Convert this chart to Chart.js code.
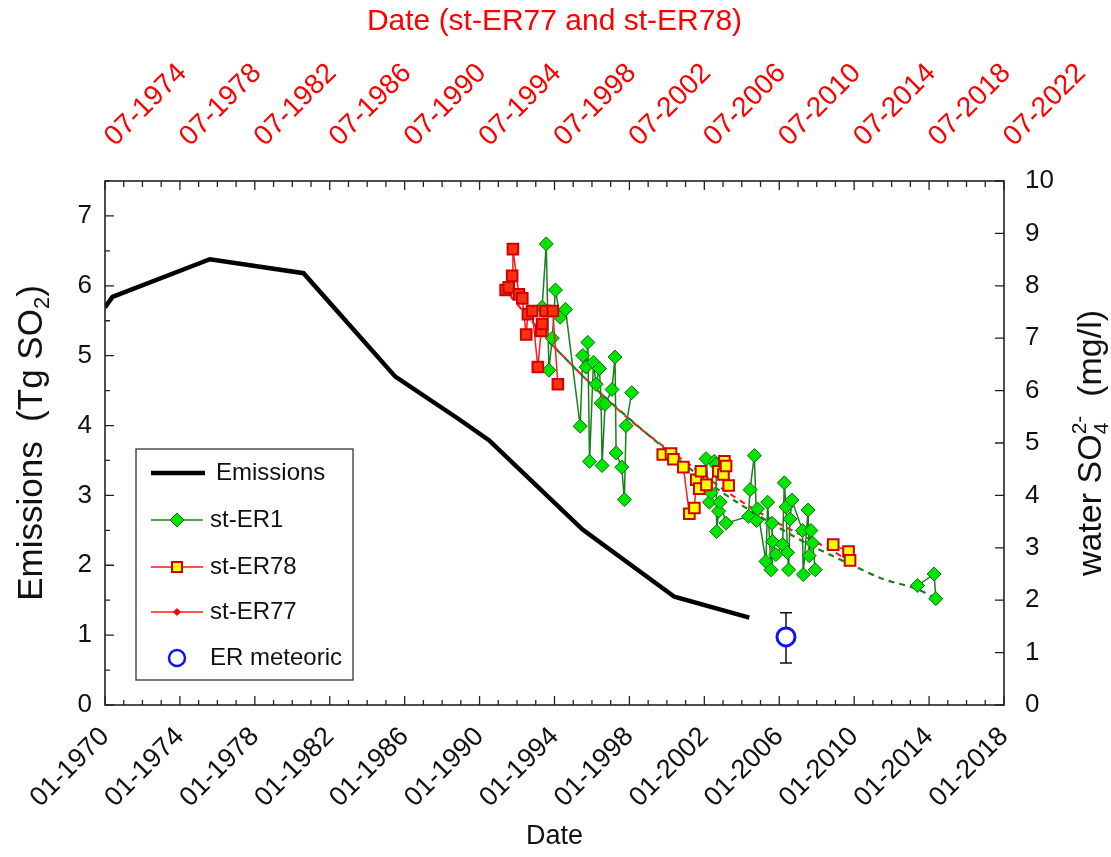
<!DOCTYPE html>
<html>
<head>
<meta charset="utf-8">
<script src="https://cdn.jsdelivr.net/npm/chart.js@4.4.1/dist/chart.umd.min.js"></script>
<style>
  html, body { margin: 0; padding: 0; background: #fff; }
  #wrap { width: 1111px; height: 857px; }
</style>
</head>
<body>
<div id="wrap"><canvas id="c"></canvas></div>
<script>
// axis ticks
const bottomTicks = [1970, 1974, 1978, 1982, 1986, 1990, 1994, 1998, 2002, 2006, 2010, 2014, 2018];
const bottomTickLabels = ['01-1970', '01-1974', '01-1978', '01-1982', '01-1986', '01-1990', '01-1994',
  '01-1998', '01-2002', '01-2006', '01-2010', '01-2014', '01-2018'];
const topTicks = [1974.5, 1978.5, 1982.5, 1986.5, 1990.5, 1994.5, 1998.5, 2002.5, 2006.5, 2010.5, 2014.5, 2018.5, 2022.5];
const topTickLabels = ['07-1974', '07-1978', '07-1982', '07-1986', '07-1990', '07-1994', '07-1998',
  '07-2002', '07-2006', '07-2010', '07-2014', '07-2018', '07-2022'];
const leftTicks = [0, 1, 2, 3, 4, 5, 6, 7];
const rightTicks = [0, 1, 2, 3, 4, 5, 6, 7, 8, 9, 10];

// emissions (Tg SO2, left axis)
const emisYears = [1970, 1970.4, 1975.6, 1980.6, 1985.5, 1988.9, 1990.5, 1995.5, 2000.4, 2004.4];
const emisValues = [5.69, 5.84, 6.38, 6.18, 4.70, 4.09, 3.79, 2.51, 1.55, 1.25];

// st-ER1 (bottom date axis, right axis mg/l); null = no sample, line broken
const er1Years = [1993.34, 1993.56, 1993.70, 1993.88, 1994.05, 1994.30, 1994.59,
  1995.37, 1995.51, 1995.69, 1995.78, 1995.87, 1996.08, 1996.22, 1996.40, 1996.49, 1996.54, 1996.70,
  1997.07, 1997.23, 1997.29, 1997.59, 1997.73, 1997.82, 1998.12, 2000,
  2002.09, 2002.27, 2002.36, 2002.53, 2002.62, 2002.66, 2002.76, 2002.84, 2003.16,
  2004.36, 2004.44, 2004.67, 2004.79, 2004.84,
  2005.29, 2005.38, 2005.56, 2005.61, 2005.64, 2005.82, 2006.18, 2006.27, 2006.36, 2006.44, 2006.50,
  2006.57, 2006.68, 2007.24, 2007.28, 2007.54, 2007.60, 2007.69, 2007.78, 2007.92, 2010,
  2013.38, 2014.27, 2014.36];
const er1Values = [7.59, 8.80, 6.39, 7.00, 7.92, 7.40, 7.55,
  5.32, 6.67, 6.45, 6.92, 4.65, 6.54, 6.12, 6.42, 5.76, 4.57, 5.74,
  6.02, 6.64, 4.81, 4.54, 3.92, 5.33, 5.96, null,
  4.70, 3.87, 4.05, 4.65, 4.59, 3.31, 3.70, 3.87, 3.47,
  3.60, 4.11, 4.76, 3.52, 3.74,
  2.74, 3.87, 2.58, 3.47, 3.12, 2.87, 3.06, 4.24, 3.78, 2.91, 2.58,
  3.55, 3.91, 3.33, 2.49, 3.72, 2.85, 3.33, 3.09, 2.58, null,
  2.28, 2.50, 2.03];

// st-ER77 and st-ER78 (top date axis, right axis mg/l)
const er77Years = [1995.89, 1996.06, 1996.24, 1996.28, 1996.60, 1996.78, 1996.99, 1997.08, 1997.31,
  1997.61, 1997.79, 1997.84, 1998.02, 1998.41, 1998.68];
const er77Values = [7.92, 7.97, 8.19, 8.70, 7.84, 7.76, 7.07, 7.46, 7.52,
  6.45, 7.14, 7.27, 7.52, 7.52, 6.12];
const er78Years = [2004.28, 2004.72, 2004.85, 2005.38, 2005.70, 2005.97, 2006.07, 2006.23, 2006.32,
  2006.61, 2007.25, 2007.52, 2007.57, 2007.66, 2007.80, 2010.5, 2013.38, 2014.20, 2014.28];
const er78Values = [4.78, 4.80, 4.69, 4.54, 3.65, 3.76, 4.30, 4.13, 4.46,
  4.20, 4.46, 4.40, 4.65, 4.56, 4.19, null, 3.06, 2.93, 2.76];

// dashed trends
const trendRedYears = [1996.15, 1998.61, 2000.90, 2002.50, 2004.26, 2005.86, 2007.30, 2008.90, 2010.50, 2012.26, 2013.17, 2014.34];
const trendRedValues = [7.80, 6.79, 5.97, 5.45, 4.95, 4.55, 4.17, 3.79, 3.46, 3.14, 2.98, 2.72];
const trendGreenYears = [1993.73, 1996.40, 1999.76, 2002.27, 2003.87, 2006.00, 2007.60, 2009.84, 2011.49, 2013.31, 2014.37];
const trendGreenValues = [6.92, 5.97, 4.93, 4.23, 3.84, 3.38, 3.06, 2.68, 2.41, 2.22, 2.03];

// ER meteoric with error bar (right axis)
const metYears = [2006.36];
const metValues = [1.30];
const metLow = [0.80];
const metHigh = [1.76];

const FONT = "'Liberation Sans', Arial, sans-serif";
const pts = (xs, ys) => xs.map((v, i) => ({ x: v, y: ys[i] }));

const decor = {
  id: 'decor',
  beforeDatasetsDraw(chart) {
    const { ctx } = chart;
    const { x, y2 } = chart.scales;
    ctx.save();
    ctx.strokeStyle = '#111';
    ctx.lineWidth = 1.5;
    metYears.forEach((yr, i) => {
      const px = x.getPixelForValue(yr);
      const t = y2.getPixelForValue(metHigh[i]);
      const b = y2.getPixelForValue(metLow[i]);
      ctx.beginPath();
      ctx.moveTo(px, t); ctx.lineTo(px, b);
      ctx.moveTo(px - 6, t); ctx.lineTo(px + 6, t);
      ctx.moveTo(px - 6, b); ctx.lineTo(px + 6, b);
      ctx.stroke();
    });
    ctx.restore();
  },
  afterDraw(chart) {
    const { ctx, chartArea: a } = chart;
    const { x, x2, y, y2 } = chart.scales;
    ctx.save();
    ctx.strokeStyle = '#222';
    ctx.lineWidth = 1.3;
    ctx.beginPath();
    for (let v = 1970; v <= 2018; v++) {
      const p = x.getPixelForValue(v);
      const len = (v - 1970) % 4 === 0 ? 9 : 5;
      ctx.moveTo(p, a.bottom); ctx.lineTo(p, a.bottom - len);
    }
    for (let v = 1974.5; v <= 2022.5; v++) {
      const p = x2.getPixelForValue(v);
      const len = (v - 1974.5) % 4 === 0 ? 9 : 6;
      ctx.moveTo(p, a.top); ctx.lineTo(p, a.top + len);
    }
    for (let v = 0; v <= 7.5; v += 0.5) {
      const p = y.getPixelForValue(v);
      const len = v % 1 === 0 ? 9 : 5;
      ctx.moveTo(a.left, p); ctx.lineTo(a.left + len, p);
    }
    for (let v = 0; v <= 10; v++) {
      const p = y2.getPixelForValue(v);
      ctx.moveTo(a.right, p); ctx.lineTo(a.right - 9, p);
    }
    ctx.stroke();
    ctx.lineWidth = 1.6;
    ctx.strokeRect(a.left, a.top, a.right - a.left, a.bottom - a.top);

    // top date labels: start at the tick and rise to the right
    ctx.fillStyle = '#ff0000';
    ctx.font = '28px ' + FONT;
    ctx.textAlign = 'left';
    ctx.textBaseline = 'alphabetic';
    topTicks.forEach((v, i) => {
      ctx.save();
      ctx.translate(x2.getPixelForValue(v) + 10, a.top - 34);
      ctx.rotate(-Math.PI / 4);
      ctx.fillText(topTickLabels[i], 0, 0);
      ctx.restore();
    });

    // vertical axis titles with sub/superscripts
    const cy = (a.top + a.bottom) / 2;
    drawRich(ctx, [{ t: 'Emissions  (Tg SO' }, { sub: '2' }, { t: ')' }], 29, cy, 35);
    drawRich(ctx, [{ t: 'water SO' }, { sub: '4', sup: '2-' }, { t: '  (mg/l)' }], 1089, cy, 34);

    // legend
    ctx.lineWidth = 1.3;
    ctx.strokeStyle = '#333';
    ctx.strokeRect(136, 449, 217, 231);
    ctx.font = '24px ' + FONT;
    ctx.fillStyle = '#111';
    ctx.textBaseline = 'middle';
    ctx.textAlign = 'left';
    const rows = [473, 520, 567, 612, 658];
    ctx.fillText('Emissions', 216, rows[0]);
    ctx.fillText('st-ER1', 210, rows[1]);
    ctx.fillText('st-ER78', 210, rows[2]);
    ctx.fillText('st-ER77', 210, rows[3]);
    ctx.fillText('ER meteoric', 210, rows[4]);
    ctx.beginPath(); ctx.strokeStyle = '#000'; ctx.lineWidth = 4.5;
    ctx.moveTo(151, rows[0]); ctx.lineTo(205, rows[0]); ctx.stroke();
    ctx.lineWidth = 1.5;
    ctx.beginPath(); ctx.strokeStyle = '#1a7f1a';
    ctx.moveTo(151, rows[1]); ctx.lineTo(203, rows[1]); ctx.stroke();
    ctx.beginPath(); ctx.strokeStyle = '#ff1a1a';
    ctx.moveTo(151, rows[2]); ctx.lineTo(203, rows[2]);
    ctx.moveTo(151, rows[3]); ctx.lineTo(203, rows[3]); ctx.stroke();
    diamond(ctx, 177, rows[1], 7, '#00e600', '#0a6b0a');
    square(ctx, 177, rows[2], 5, '#ffff00', '#d00000', 2);
    diamond(ctx, 177, rows[3], 3.5, '#ff0000', '#ff0000');
    ctx.beginPath(); ctx.arc(177, rows[4], 8, 0, Math.PI * 2);
    ctx.strokeStyle = '#1010ff'; ctx.lineWidth = 2.5; ctx.stroke();
    ctx.restore();
  }
};

function diamond(ctx, cx, cy, r, fill, stroke) {
  ctx.beginPath();
  ctx.moveTo(cx, cy - r); ctx.lineTo(cx + r, cy); ctx.lineTo(cx, cy + r); ctx.lineTo(cx - r, cy);
  ctx.closePath();
  ctx.fillStyle = fill; ctx.fill();
  ctx.strokeStyle = stroke; ctx.lineWidth = 1; ctx.stroke();
}

function square(ctx, cx, cy, h, fill, stroke, lw) {
  ctx.fillStyle = fill; ctx.fillRect(cx - h, cy - h, 2 * h, 2 * h);
  ctx.strokeStyle = stroke; ctx.lineWidth = lw; ctx.strokeRect(cx - h, cy - h, 2 * h, 2 * h);
}

function drawRich(ctx, parts, cx, cy, size) {
  ctx.save();
  ctx.translate(cx, cy);
  ctx.rotate(-Math.PI / 2);
  ctx.fillStyle = '#111';
  ctx.textBaseline = 'alphabetic';
  ctx.textAlign = 'left';
  const small = Math.round(size * 0.62);
  const widths = parts.map(p => {
    if (p.t) { ctx.font = size + 'px ' + FONT; return ctx.measureText(p.t).width; }
    ctx.font = small + 'px ' + FONT;
    return Math.max(p.sub ? ctx.measureText(p.sub).width : 0, p.sup ? ctx.measureText(p.sup).width : 0);
  });
  const total = widths.reduce((s, w) => s + w, 0);
  let px = -total / 2;
  const base = size * 0.36;
  parts.forEach((p, i) => {
    if (p.t) {
      ctx.font = size + 'px ' + FONT;
      ctx.fillText(p.t, px, base);
    } else {
      ctx.font = small + 'px ' + FONT;
      if (p.sub) ctx.fillText(p.sub, px, base + size * 0.2);
      if (p.sup) ctx.fillText(p.sup, px, base - size * 0.45);
    }
    px += widths[i];
  });
  ctx.restore();
}

new Chart(document.getElementById('c'), {
  type: 'line',
  data: {
    datasets: [
      {
        label: 'Emissions', data: pts(emisYears, emisValues), xAxisID: 'x', yAxisID: 'y',
        borderColor: '#000', borderWidth: 4.5, pointRadius: 0, order: 6
      },
      {
        label: 'trend ER77/78', data: pts(trendRedYears, trendRedValues), xAxisID: 'x2', yAxisID: 'y2',
        borderColor: '#ff2020', borderWidth: 2.2, borderDash: [6, 5], pointRadius: 0, tension: 0.3, order: 5
      },
      {
        label: 'trend ER1', data: pts(trendGreenYears, trendGreenValues), xAxisID: 'x', yAxisID: 'y2',
        borderColor: '#1a7f1a', borderWidth: 2.2, borderDash: [6, 5], pointRadius: 0, tension: 0.3, order: 4
      },
      {
        label: 'st-ER1', data: pts(er1Years, er1Values), xAxisID: 'x', yAxisID: 'y2',
        borderColor: '#1a7f1a', borderWidth: 1.5, pointStyle: 'rectRot', pointRadius: 7, spanGaps: false,
        pointBackgroundColor: '#00e600', pointBorderColor: '#0a6b0a', pointBorderWidth: 1, order: 3
      },
      {
        label: 'st-ER78', data: pts(er78Years, er78Values), xAxisID: 'x2', yAxisID: 'y2',
        borderColor: '#ff1a1a', borderWidth: 1.5, pointStyle: 'rect', pointRadius: 7.5, spanGaps: false,
        pointBackgroundColor: '#ffff00', pointBorderColor: '#d00000', pointBorderWidth: 2, order: 2
      },
      {
        label: 'st-ER77', data: pts(er77Years, er77Values), xAxisID: 'x2', yAxisID: 'y2',
        borderColor: '#ff1a1a', borderWidth: 1.5, pointStyle: 'rect', pointRadius: 7.5,
        pointBackgroundColor: '#ff3010', pointBorderColor: '#d00000', pointBorderWidth: 2, order: 1
      },
      {
        label: 'ER meteoric', data: pts(metYears, metValues), xAxisID: 'x', yAxisID: 'y2',
        showLine: false, pointStyle: 'circle', pointRadius: 9,
        pointBackgroundColor: '#fff', pointBorderColor: '#1010ff', pointBorderWidth: 3, order: 0
      }
    ]
  },
  options: {
    responsive: true,
    maintainAspectRatio: false,
    animation: false,
    events: [],
    layout: { padding: 0 },
    plugins: { legend: { display: false }, tooltip: { enabled: false } },
    scales: {
      x: {
        type: 'linear', position: 'bottom', min: 1970, max: 2018,
        afterBuildTicks: s => { s.ticks = bottomTicks.map(v => ({ value: v })); },
        afterFit: s => { s.height = 152; },
        grid: { display: false, drawTicks: false }, border: { display: false },
        ticks: {
          autoSkip: false, minRotation: 45, maxRotation: 45, padding: 16,
          color: '#111', font: { size: 27, family: FONT },
          callback: (v, i) => bottomTickLabels[i]
        },
        title: { display: true, text: 'Date', color: '#111', font: { size: 27, family: FONT }, padding: { bottom: 4 } }
      },
      x2: {
        type: 'linear', position: 'top', min: 1974.5, max: 2022.5,
        afterBuildTicks: s => { s.ticks = topTicks.map(v => ({ value: v })); },
        afterFit: s => { s.height = 181; },
        grid: { display: false, drawTicks: false }, border: { display: false },
        ticks: { display: false },
        title: { display: true, text: 'Date (st-ER77 and st-ER78)', color: '#ff0000', font: { size: 30, family: FONT }, padding: { top: 4 } }
      },
      y: {
        type: 'linear', position: 'left', min: 0, max: 7.5,
        afterBuildTicks: s => { s.ticks = leftTicks.map(v => ({ value: v })); },
        afterFit: s => { s.width = 105; },
        grid: { display: false, drawTicks: false }, border: { display: false },
        ticks: { padding: 13, color: '#111', font: { size: 26, family: FONT } }
      },
      y2: {
        type: 'linear', position: 'right', min: 0, max: 10,
        afterBuildTicks: s => { s.ticks = rightTicks.map(v => ({ value: v })); },
        afterFit: s => { s.width = 107; },
        grid: { display: false, drawTicks: false }, border: { display: false },
        ticks: { padding: 21, color: '#111', font: { size: 26, family: FONT } }
      }
    }
  },
  plugins: [decor]
});
</script>
</body>
</html>
